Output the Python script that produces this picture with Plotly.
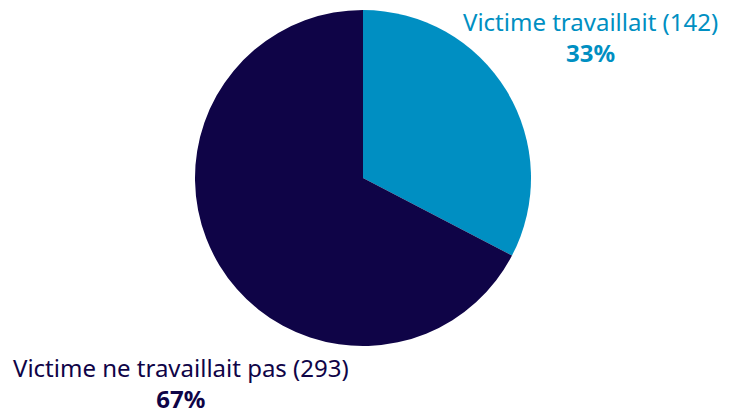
import plotly.graph_objects as go

labels = ["Victime travaillait", "Victime ne travaillait pas"]
values = [142, 293]
colors = ["#008fc2", "#0f0447"]

total = sum(values)
pcts = [round(v * 100 / total) for v in values]

fig = go.Figure(go.Pie(
    labels=labels,
    values=values,
    marker=dict(colors=colors, line=dict(width=0)),
    textinfo="none",
    hoverinfo="label+value+percent",
    sort=False,
    direction="clockwise",
    rotation=0,
    showlegend=False,
    domain=dict(x=[195 / 737, 531 / 737], y=[1 - 346 / 408, 1 - 10 / 408]),
))

font_family = "'Noto Sans', sans-serif"
anno_pos = [(590, 37), (181, 383)]
for lab, val, pct, col, (ax, ay) in zip(labels, values, pcts, colors, anno_pos):
    fig.add_annotation(
        x=ax / 737, y=1 - ay / 408, xref="paper", yref="paper",
        text=f"{lab} ({val})<br><b>{pct}%</b>",
        showarrow=False, xanchor="center", yanchor="middle",
        align="center",
        font=dict(family=font_family, size=24, color=col),
    )

fig.update_layout(
    width=737, height=408,
    margin=dict(l=0, r=0, t=0, b=0),
    paper_bgcolor="white",
    plot_bgcolor="white",
)

fig.write_html(
    "out.html",
    config={"displayModeBar": False},
    post_script="document.body.style.margin='0';document.body.style.padding='0';",
)
